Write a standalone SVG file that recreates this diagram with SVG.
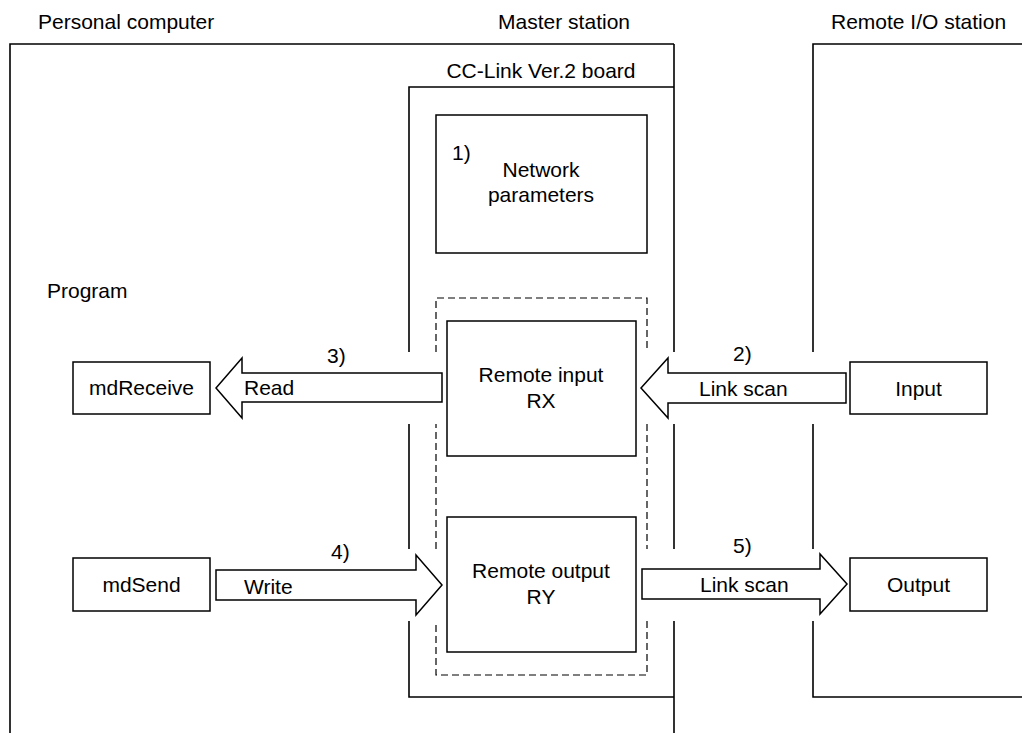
<svg xmlns="http://www.w3.org/2000/svg" width="1022" height="733" viewBox="0 0 1022 733">
<style>
text{font-family:"Liberation Sans",Arial,sans-serif;font-size:21px;fill:#000}
.c{text-anchor:middle}
.ln{fill:none;stroke:#000;stroke-width:1.6}
.bx{fill:#fff;stroke:#000;stroke-width:1.5}
.ds{fill:none;stroke:#000;stroke-width:1.2;stroke-dasharray:7 4}
.ar{fill:#fff;stroke:#000;stroke-width:1.5;stroke-linejoin:miter}
</style>
<rect width="1022" height="733" fill="#fff"/>
<g id="personal-computer">
<text x="38" y="29">Personal computer</text>
<path class="ln" d="M10,733 V44 H674"/>
<text x="47" y="298">Program</text>
</g>
<g id="master-station">
<text x="630" y="29" text-anchor="end">Master station</text>
<path class="ln" d="M674,44 V352 M674,424 V549 M674,621 V733"/>
</g>
<g id="cc-link-board">
<text class="c" x="541" y="78">CC-Link Ver.2 board</text>
<path class="ln" d="M674,87 H409 V352 M409,424 V549 M409,621 V697 H674"/>
</g>
<g id="remote-io-station">
<text x="831" y="29">Remote I/O station</text>
<path class="ln" d="M1022,44 H813 V352 M813,424 V549 M813,621 V697 H1022"/>
</g>
<g id="network-parameters">
<rect class="bx" x="436" y="115" width="211" height="138"/>
<text x="452" y="160">1)</text>
<text class="c" x="541" y="177">Network</text>
<text class="c" x="541" y="202">parameters</text>
</g>
<g id="buffer-area">
<path class="ds" d="M436,352 V298 H647 V352 M647,424 V549 M647,621 V675 H436 V621 M436,549 V424"/>
</g>
<g id="remote-input">
<rect class="bx" x="447" y="321" width="189" height="135"/>
<text class="c" x="541" y="382">Remote input</text>
<text class="c" x="541" y="408">RX</text>
</g>
<g id="remote-output">
<rect class="bx" x="447" y="517" width="189" height="135"/>
<text class="c" x="541" y="578">Remote output</text>
<text class="c" x="541" y="604">RY</text>
</g>
<g id="mdReceive">
<rect class="bx" x="73" y="362" width="137" height="52"/>
<text class="c" x="141.5" y="395">mdReceive</text>
</g>
<g id="mdSend">
<rect class="bx" x="73" y="558" width="137" height="53"/>
<text class="c" x="141.5" y="592">mdSend</text>
</g>
<g id="input">
<rect class="bx" x="850" y="362" width="137" height="52"/>
<text class="c" x="918.5" y="396">Input</text>
</g>
<g id="output">
<rect class="bx" x="850" y="558" width="137" height="53"/>
<text class="c" x="918.5" y="592">Output</text>
</g>
<g id="connectors">
<polygon class="ar" points="442,373 242,373 242,358 216,388 242,418 242,402 442,402"/>
<text x="327" y="363">3)</text>
<text x="244" y="395">Read</text>
<polygon class="ar" points="846,373 668,373 668,358 641,388 668,418 668,403 846,403"/>
<text x="733" y="361">2)</text>
<text x="699" y="396">Link scan</text>
<polygon class="ar" points="216,570 416,570 416,555 442,585 416,615 416,600 216,600"/>
<text x="331" y="559">4)</text>
<text x="244" y="594">Write</text>
<polygon class="ar" points="642,569 820,569 820,554 847,584 820,614 820,599 642,599"/>
<text x="733" y="553">5)</text>
<text x="700" y="592">Link scan</text>
</g>
</svg>
